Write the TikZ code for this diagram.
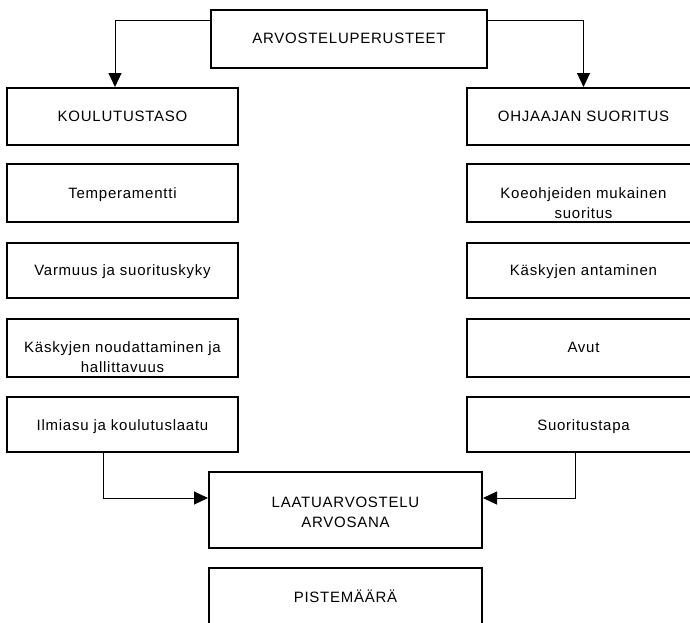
\documentclass[tikz,border=0pt]{standalone}
\usepackage{fontspec}
\setmainfont{Liberation Sans}[LetterSpace=5]
\usetikzlibrary{arrows.meta}
\newcommand{\boxtext}[1]{\begin{tabular}[t]{@{}c@{}}#1\end{tabular}}
\begin{document}
\begin{tikzpicture}[x=1pt,y=-1pt,
  box/.style={draw=black, line width=2pt, rectangle, inner sep=0pt},
  txt/.style={anchor=base, inner sep=0pt, font=\fontsize{15}{20}\selectfont},
  conn/.style={draw=black, line width=1pt, -{Triangle[length=14pt,width=13pt]}}]
\useasboundingbox (0,0) rectangle (690,622);
\clip (0,0) rectangle (690,622);
% boxes
\node[box, minimum width=276pt, minimum height=58pt] (top) at (349,39) {};
\node[box, minimum width=231pt, minimum height=57pt] (kou) at (122.5,116.5) {};
\node[box, minimum width=233pt, minimum height=57pt] (ohj) at (583.5,116.5) {};
\node[box, minimum width=231pt, minimum height=58pt] (l1) at (122.5,193) {};
\node[box, minimum width=231pt, minimum height=55pt] (l2) at (122.5,270.5) {};
\node[box, minimum width=231pt, minimum height=58pt] (l3) at (122.5,348) {};
\node[box, minimum width=231pt, minimum height=55pt] (l4) at (122.5,424.5) {};
\node[box, minimum width=233pt, minimum height=58pt] (r1) at (583.5,193) {};
\node[box, minimum width=233pt, minimum height=55pt] (r2) at (583.5,270.5) {};
\node[box, minimum width=233pt, minimum height=58pt] (r3) at (583.5,348) {};
\node[box, minimum width=233pt, minimum height=55pt] (r4) at (583.5,424.5) {};
\node[box, minimum width=273pt, minimum height=76pt] (laatu) at (345.5,510) {};
\node[box, minimum width=273pt, minimum height=76pt] (pis) at (345.5,606) {};
% texts
\node[txt] (toptxt) at (349,43) {\boxtext{ARVOSTELUPERUSTEET}};
\node[txt] (koutxt) at (122.5,121) {\boxtext{KOULUTUSTASO}};
\node[txt] (ohjtxt) at (583.5,121) {\boxtext{OHJAAJAN SUORITUS}};
\node[txt] (l1txt) at (122.5,198) {\boxtext{Temperamentti}};
\node[txt] (l2txt) at (122.5,275) {\boxtext{Varmuus ja suorituskyky}};
\node[txt] (l3txt) at (122.5,352) {\boxtext{Käskyjen noudattaminen ja\\hallittavuus}};
\node[txt] (l4txt) at (122.5,430) {\boxtext{Ilmiasu ja koulutuslaatu}};
\node[txt] (r1txt) at (583.5,198) {\boxtext{Koeohjeiden mukainen\\suoritus}};
\node[txt] (r2txt) at (583.5,275) {\boxtext{Käskyjen antaminen}};
\node[txt] (r3txt) at (583.5,352) {\boxtext{Avut}};
\node[txt] (r4txt) at (583.5,430) {\boxtext{Suoritustapa}};
\node[txt] (laatutxt) at (345.5,507) {\boxtext{LAATUARVOSTELU\\ARVOSANA}};
\node[txt] (pistxt) at (345.5,602) {\boxtext{PISTEMÄÄRÄ}};
% connectors
\draw[conn] ([yshift=-11pt]top.north west) -| ([xshift=-7.5pt]kou.north);
\draw[conn] ([yshift=-11pt]top.north east) -| (ohj.north);
\draw[conn] ([xshift=-19.5pt]l4.south) |- ([yshift=12pt]laatu.west);
\draw[conn] ([xshift=-8.5pt]r4.south) |- ([yshift=12pt]laatu.east);
\end{tikzpicture}
\end{document}
